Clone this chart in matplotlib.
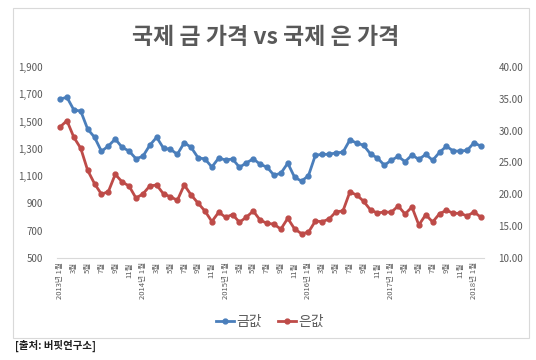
import matplotlib
matplotlib.use("Agg")
import matplotlib.pyplot as plt
from matplotlib.patches import Rectangle

plt.rcParams['font.family'] = ['Noto Sans CJK KR', 'DejaVu Sans']

# 2013년 1월 ~ 2018년 2월 (월별)
gold = [1665, 1678, 1585, 1577, 1445, 1385, 1282, 1321, 1372, 1311, 1284, 1228,
        1245, 1326, 1385, 1304, 1297, 1260, 1345, 1311, 1235, 1226, 1167, 1233,
        1218, 1226, 1165, 1197, 1227, 1187, 1166, 1107, 1121, 1195, 1091, 1064,
        1103, 1253, 1260, 1260, 1271, 1275, 1365, 1343, 1326, 1262, 1233, 1180,
        1216, 1245, 1206, 1255, 1223, 1260, 1216, 1275, 1319, 1284, 1284, 1289,
        1345, 1319]
silver = [30.58, 31.57, 28.96, 27.23, 23.78, 21.67, 20.02, 20.42, 23.15, 21.94, 21.31, 19.42,
          20.05, 21.31, 21.47, 20.05, 19.63, 19.06, 21.47, 19.90, 18.62, 17.38, 15.73, 17.20,
          16.39, 16.83, 15.62, 16.41, 17.38, 15.95, 15.45, 15.32, 14.53, 16.23, 14.55, 13.82,
          14.04, 15.81, 15.70, 16.13, 17.28, 17.38, 20.37, 19.90, 18.90, 17.54, 17.07, 17.23,
          17.18, 18.17, 16.91, 18.01, 15.18, 16.80, 15.65, 16.96, 17.49, 17.02, 17.02, 16.60,
          17.23, 16.39]

labels = []
for i in range(len(gold)):
    y, m = 2013 + i // 12, i % 12 + 1
    if i % 2:
        labels.append("")
    elif m == 1:
        labels.append(f"{y}년 {m}월")
    else:
        labels.append(f"{m}월")

left_ticks = [500, 700, 900, 1100, 1300, 1500, 1700, 1900]
right_ticks = [10, 15, 20, 25, 30, 35, 40]

blue = "#4a7ebb"
red = "#be4b48"
grey = "#595959"

fig = plt.figure(figsize=(5.36, 3.6), dpi=100)
fig.patches.append(Rectangle((13 / 536, 1 - 338 / 360), 516 / 536, 330 / 360,
                             transform=fig.transFigure, fill=False,
                             edgecolor="#d9d9d9", linewidth=0.8))

ax = fig.add_axes([56.6 / 536, 1 - 258 / 360, 427.8 / 536, 191 / 360])
ax2 = ax.twinx()
x = list(range(len(gold)))
l1, = ax.plot(x, gold, color=blue, lw=2, marker="o", ms=3.5, label="금값")
l2, = ax2.plot(x, silver, color=red, lw=2, marker="o", ms=3.5, label="은값")

ax.set_xlim(-0.5, len(gold) - 0.5)
ax.set_ylim(500, 1900)
ax2.set_ylim(10, 40)
ax.set_yticks(left_ticks)
ax.set_yticklabels([f"{v:,}" for v in left_ticks])
ax2.set_yticks(right_ticks)
ax2.set_yticklabels([f"{v:.2f}" for v in right_ticks])
ax.set_xticks(x)
ax.set_xticklabels(labels, rotation=90, fontsize=5.5, color=grey, va="top")

for a in (ax, ax2):
    for s in a.spines.values():
        s.set_visible(False)
    a.tick_params(axis="y", length=0, labelsize=7, labelcolor=grey, pad=10)
ax.spines["bottom"].set_visible(True)
ax.spines["bottom"].set_color("#d9d9d9")
ax.tick_params(axis="x", length=0, pad=3)

fig.text(0.495, 1 - 38 / 360, "국제 금 가격 vs 국제 은 가격", ha="center", va="center",
         fontsize=16.5, fontweight="bold", color=grey)
fig.legend(handles=[l1, l2], loc="center", bbox_to_anchor=(270 / 536, 1 - 322 / 360),
           ncol=2, frameon=False, fontsize=10, handlelength=1.3, columnspacing=1.2,
           handletextpad=0.15, labelcolor=grey)
fig.text(15 / 536, 1 - 346 / 360, "[출처: 버핏연구소]", ha="left", va="center",
         fontsize=7.5, fontweight="bold", color="#1f1f1f")

fig.savefig("out.png", dpi=100)
